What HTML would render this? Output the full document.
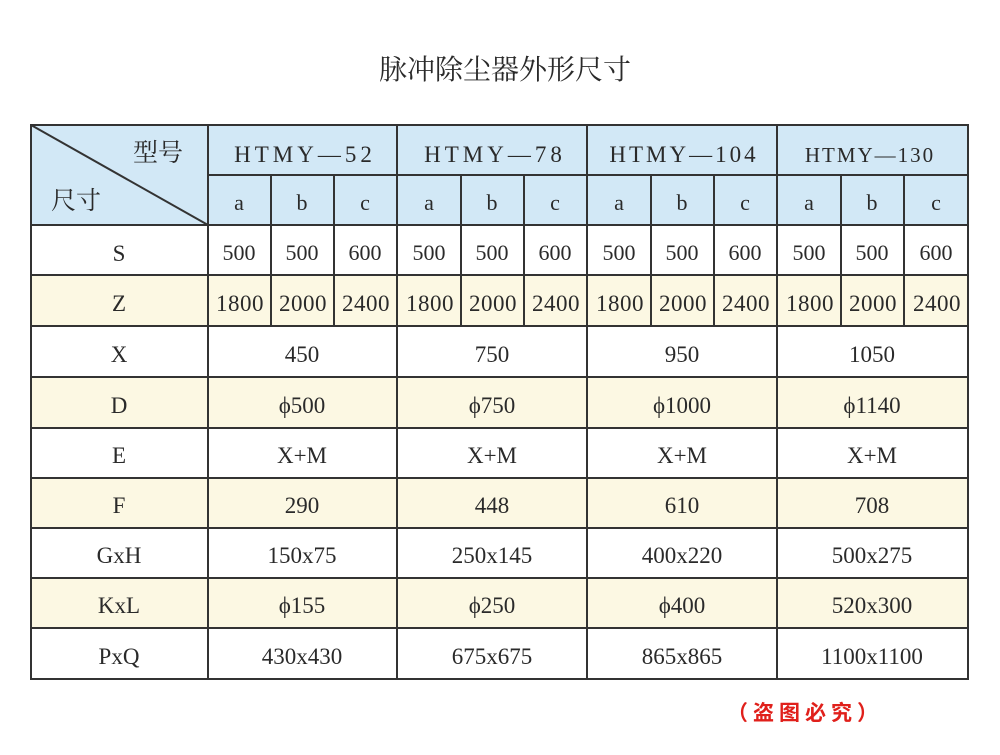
<!DOCTYPE html>
<html><head><meta charset="utf-8"><style>
body{margin:0;background:#fff;width:1000px;height:750px;overflow:hidden}
svg text{font-family:"Liberation Serif","Noto Serif CJK SC",serif;fill:#2a2a2a}
</style></head><body>
<svg width="1000" height="750" viewBox="0 0 1000 750" xmlns="http://www.w3.org/2000/svg">
<text x="505" y="79" font-size="28" text-anchor="middle">脉冲除尘器外形尺寸</text>
<rect x="31" y="125" width="937" height="100" fill="#d2e8f6"/>
<rect x="31" y="275" width="937" height="51" fill="#fcf8e3"/>
<rect x="31" y="377" width="937" height="51" fill="#fcf8e3"/>
<rect x="31" y="478" width="937" height="50" fill="#fcf8e3"/>
<rect x="31" y="578" width="937" height="50" fill="#fcf8e3"/>
<g stroke="#333" stroke-width="2" fill="none">
<rect x="31" y="125" width="937" height="554"/>
<line x1="208" y1="175" x2="968" y2="175"/>
<line x1="31" y1="225" x2="968" y2="225"/>
<line x1="31" y1="275" x2="968" y2="275"/>
<line x1="31" y1="326" x2="968" y2="326"/>
<line x1="31" y1="377" x2="968" y2="377"/>
<line x1="31" y1="428" x2="968" y2="428"/>
<line x1="31" y1="478" x2="968" y2="478"/>
<line x1="31" y1="528" x2="968" y2="528"/>
<line x1="31" y1="578" x2="968" y2="578"/>
<line x1="31" y1="628" x2="968" y2="628"/>
<line x1="208" y1="125" x2="208" y2="679"/>
<line x1="397" y1="125" x2="397" y2="679"/>
<line x1="587" y1="125" x2="587" y2="679"/>
<line x1="777" y1="125" x2="777" y2="679"/>
<line x1="271" y1="175" x2="271" y2="326"/><line x1="334" y1="175" x2="334" y2="326"/>
<line x1="461" y1="175" x2="461" y2="326"/><line x1="524" y1="175" x2="524" y2="326"/>
<line x1="651" y1="175" x2="651" y2="326"/><line x1="714" y1="175" x2="714" y2="326"/>
<line x1="841" y1="175" x2="841" y2="326"/><line x1="904" y1="175" x2="904" y2="326"/>
<line x1="31" y1="125" x2="208" y2="225"/>
</g>
<g font-size="23" text-anchor="middle">
<text x="158" y="161" font-size="25">型号</text>
<text x="76" y="209" font-size="25">尺寸</text>
<text x="305" y="162" letter-spacing="4">HTMY—52</text>
<text x="495" y="162" letter-spacing="4">HTMY—78</text>
<text x="684" y="162" letter-spacing="3">HTMY—104</text>
<text x="870" y="162" letter-spacing="2" font-size="21">HTMY—130</text>
</g>
<g font-size="22" text-anchor="middle">
<text x="239" y="210">a</text><text x="302" y="210">b</text><text x="365" y="210">c</text>
<text x="429" y="210">a</text><text x="492" y="210">b</text><text x="555" y="210">c</text>
<text x="619" y="210">a</text><text x="682" y="210">b</text><text x="745" y="210">c</text>
<text x="809" y="210">a</text><text x="872" y="210">b</text><text x="936" y="210">c</text>
<text x="239" y="260">500</text><text x="302" y="260">500</text><text x="365" y="260">600</text>
<text x="429" y="260">500</text><text x="492" y="260">500</text><text x="555" y="260">600</text>
<text x="619" y="260">500</text><text x="682" y="260">500</text><text x="745" y="260">600</text>
<text x="809" y="260">500</text><text x="872" y="260">500</text><text x="936" y="260">600</text>
<g font-size="23" letter-spacing="0.5">
<text x="240" y="311">1800</text><text x="303" y="311">2000</text><text x="366" y="311">2400</text>
<text x="430" y="311">1800</text><text x="493" y="311">2000</text><text x="556" y="311">2400</text>
<text x="620" y="311">1800</text><text x="683" y="311">2000</text><text x="746" y="311">2400</text>
<text x="810" y="311">1800</text><text x="873" y="311">2000</text><text x="937" y="311">2400</text>
</g>
<g font-size="23">
<text x="119" y="261">S</text><text x="119" y="311">Z</text><text x="119" y="362">X</text>
<text x="119" y="413">D</text><text x="119" y="463">E</text><text x="119" y="513">F</text>
<text x="119" y="563">GxH</text><text x="119" y="613">KxL</text><text x="119" y="664">PxQ</text>
<text x="302" y="362">450</text><text x="492" y="362">750</text><text x="682" y="362">950</text><text x="872" y="362">1050</text>
<text x="302" y="413">ϕ500</text><text x="492" y="413">ϕ750</text><text x="682" y="413">ϕ1000</text><text x="872" y="413">ϕ1140</text>
<text x="302" y="463">X+M</text><text x="492" y="463">X+M</text><text x="682" y="463">X+M</text><text x="872" y="463">X+M</text>
<text x="302" y="513">290</text><text x="492" y="513">448</text><text x="682" y="513">610</text><text x="872" y="513">708</text>
<text x="302" y="563">150x75</text><text x="492" y="563">250x145</text><text x="682" y="563">400x220</text><text x="872" y="563">500x275</text>
<text x="302" y="613">ϕ155</text><text x="492" y="613">ϕ250</text><text x="682" y="613">ϕ400</text><text x="872" y="613">520x300</text>
<text x="302" y="664">430x430</text><text x="492" y="664">675x675</text><text x="682" y="664">865x865</text><text x="872" y="664">1100x1100</text>
</g>
</g>
<text x="805" y="720" font-size="21" text-anchor="middle" font-weight="bold" style="fill:#e0201b;font-family:'Noto Sans CJK SC',sans-serif" letter-spacing="5">（盗图必究）</text>
</svg>
</body></html>
